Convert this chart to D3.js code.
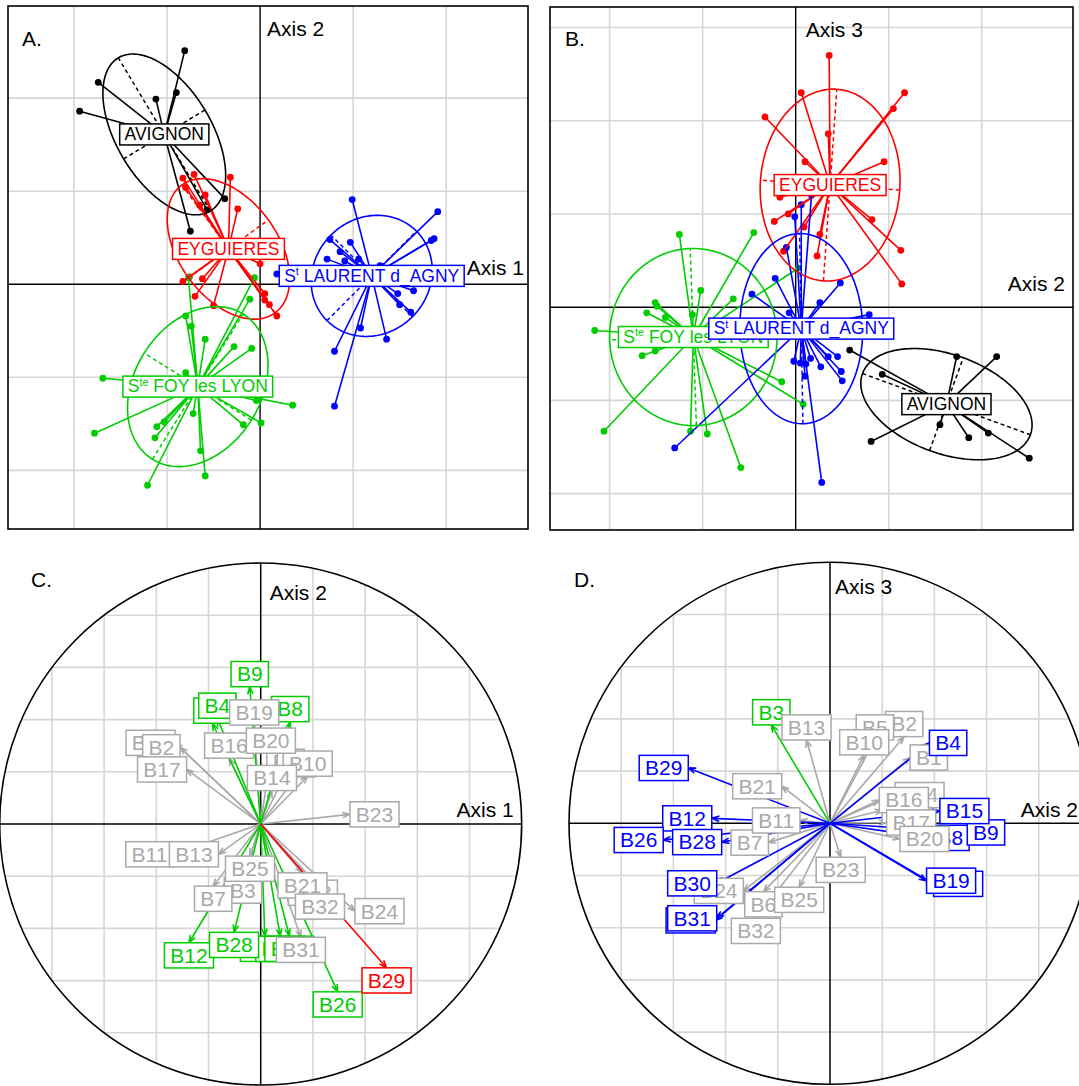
<!DOCTYPE html>
<html><head><meta charset="utf-8">
<script src="https://cdn.jsdelivr.net/npm/d3@7"></script>
<style>body{margin:0;background:#fff} svg{display:block}</style>
</head><body>
<svg id="chart" width="1079" height="1086"></svg>
<script>
// ================= DATA =================
const classNames = ["AVIGNON", "EYGUIERES", "S^te FOY les LYON", "S^t LAURENT d_AGNY"];

// Panel A : factorial plane axes 1 x 2 (individual scores per site)
const avignonA   = [[-0.81,2.51],[-1.74,2.17],[-1.94,1.86],[-1.12,1.99],[-0.90,2.06],[-0.38,0.92],[-0.57,0.80],[-0.75,0.57]];
const eyguieresA = [[-0.83,1.14],[-0.71,1.18],[-0.32,1.15],[-0.59,0.96],[-0.80,1.04],[-0.65,0.85],[-0.24,0.81],[0.00,0.22],[-0.83,0.03],[-0.76,0.08],[-0.62,0.06],[-0.70,-0.13],[-0.50,-0.23],[0.05,-0.10],[0.05,-0.17],[0.18,-0.34],[0.10,-0.22]];
const steFoyA    = [[-0.80,-0.34],[-0.74,-0.45],[-0.59,-0.59],[-0.28,-0.67],[-0.09,-0.69],[-0.11,-0.16],[-0.06,0.07],[-0.77,0.07],[-0.80,-0.95],[-1.69,-1.01],[0.35,-1.30],[-0.04,-1.25],[0.01,-1.49],[-0.18,-1.51],[-0.72,-1.39],[-1.11,-1.53],[-1.03,-1.48],[-1.13,-1.65],[-1.78,-1.60],[-0.64,-1.79],[-0.59,-2.06],[-1.21,-2.16]];
const stLaurentA = [[0.99,0.91],[1.91,0.78],[1.87,0.49],[1.84,0.47],[0.75,0.48],[0.97,0.45],[0.86,0.35],[1.06,0.27],[0.72,0.27],[0.91,0.25],[0.18,0.11],[1.48,-0.10],[1.65,-0.07],[1.50,-0.22],[1.08,-0.47],[1.36,-0.59],[0.80,-0.72],[0.80,-1.31],[1.29,0.20],[1.62,-0.30]];
const centroidsA = [[-1.03,1.61],[-0.34,0.38],[-0.67,-1.10],[1.20,0.09]];
// ellipse: semi-major, semi-minor, angle of major axis (deg)
const ellipsesA  = [[0.96,0.51,121],[0.85,0.53,-54],[0.92,0.68,58],[0.68,0.62,45]];

// Panel B : factorial plane axes 2 x 3
const avignonB   = [[0.58,-0.46],[0.93,-0.72],[1.73,-0.53],[2.16,-0.53],[0.81,-1.44],[1.55,-1.26],[1.86,-1.40],[2.07,-1.35],[2.51,-1.62]];
const eyguieresB = [[0.36,2.70],[0.06,2.30],[1.17,2.30],[1.05,2.13],[-0.33,2.04],[0.35,1.86],[0.95,1.56],[0.10,1.56],[-0.17,1.18],[-0.08,1.00],[-0.23,0.92],[0.09,0.86],[0.82,0.94],[1.13,0.61],[0.26,0.78],[0.23,0.55],[-0.13,0.60],[1.14,0.25]];
const steFoyB    = [[-1.25,0.78],[-0.45,0.80],[-1.02,0.18],[-0.67,0.09],[-1.51,0.05],[-1.49,0.01],[-1.60,-0.06],[-1.40,-0.11],[-1.11,-0.08],[-2.16,-0.25],[-1.65,-0.52],[-1.51,-0.47],[-0.15,-0.80],[0.08,-1.04],[-2.06,-1.33],[-1.13,-1.33],[-0.95,-1.36],[-0.59,-1.72],[0.03,0.42]];
const stLaurentB = [[0.06,1.10],[-0.01,0.97],[-0.10,0.64],[0.17,1.20],[-0.22,0.31],[0.48,0.26],[-0.47,0.14],[0.26,0.05],[-0.07,-0.06],[0.79,-0.08],[-0.02,-0.58],[0.05,-0.60],[0.11,-0.61],[0.16,-0.55],[0.35,-0.53],[0.45,-0.53],[0.27,-0.64],[0.49,-0.69],[0.50,-0.79],[0.10,-0.74],[-1.30,-1.51],[0.28,-1.88]];
const centroidsB = [[1.62,-1.04],[0.37,1.31],[-1.10,-0.32],[0.06,-0.23]];
const ellipsesB  = [[0.96,0.53,-20],[1.03,0.75,86],[0.95,0.90,92],[1.02,0.66,91]];

// Panel C : correlation circle axes 1 x 2 (variables, in drawing order)
const namesC = ["B1","B30","B2","B3","B4","B5","B6","B7","B8","B9","B10","B11","B12","B13","B14","B15","B16","B17","B18","B19","B20","B21","B22","B23","B24","B25","B26","B27","B28","B29","B31","B32"];
const corC_x = [-0.185,-0.328,-0.309,-0.068,-0.166,0.095,0.135,-0.182,0.113,-0.042,0.18,-0.335,-0.275,-0.162,0.043,0.016,-0.121,-0.284,0.20,-0.025,0.039,0.16,0.075,0.342,0.361,-0.041,0.295,0.11,-0.102,0.482,0.154,0.227];
const corC_y = [0.386,0.311,0.294,-0.207,0.405,0.19,0.18,-0.238,0.392,0.526,0.183,-0.116,-0.455,-0.116,0.128,-0.43,0.252,0.209,-0.215,0.379,0.271,-0.187,-0.43,0.037,-0.334,-0.123,-0.643,-0.43,-0.415,-0.551,-0.434,-0.268];
const groupC = ["g","n","n","n","g","n","n","n","g","g","n","n","g","n","n","g","n","n","n","n","n","n","g","n","n","n","g","g","g","r","n","n"];

// Panel D : correlation circle axes 2 x 3
const namesD = ["B1","B2","B5","B3","B4","B6","B7","B27","B8","B9","B10","B11","B12","B13","B18","B14","B16","B15","B17","B22","B19","B20","B21","B23","B24","B25","B26","B28","B29","B30","B31","B32"];
const corD_x = [0.307,0.284,0.172,-0.225,0.381,-0.255,-0.236,-0.44,0.39,0.526,0.131,-0.115,-0.453,-0.09,0.20,0.249,0.189,0.421,0.217,0.397,0.37,0.268,-0.185,0.041,-0.332,-0.118,-0.639,-0.415,-0.543,-0.434,-0.434,-0.284];
const corD_y = [0.252,0.332,0.319,0.377,0.308,-0.262,-0.074,-0.372,-0.056,-0.035,0.262,0.011,0.019,0.319,0.05,0.108,0.089,0.047,0.003,-0.232,-0.22,-0.06,0.142,-0.13,-0.259,-0.245,-0.064,-0.072,0.212,-0.23,-0.364,-0.364];
const groupD = ["n","n","n","g","b","n","n","b","b","b","n","n","b","n","n","n","n","b","n","b","b","n","n","n","n","n","b","b","b","b","b","n"];

// ================= STYLE =================
const FONT = "'Liberation Sans', Arial, Helvetica, sans-serif";
const classColors = ["#000000", "#ff0000", "#00cd00", "#0000ff"];
const groupColors = {g: "#00cd00", r: "#ff0000", b: "#0000ff", n: "#a9a9a9"};
const GRID = "#d6d6d6";

const svg = d3.select("#chart");
svg.append("rect").attr("width", 1079).attr("height", 1086).attr("fill", "#fff");
const defs = svg.append("defs");
const meas = svg.append("text").attr("font-family", FONT).attr("visibility", "hidden");
function tw(s, fs) { meas.attr("font-size", fs).text(s); return meas.node().getComputedTextLength(); }

function addText(x, y, s, fs, anchor) {
  svg.append("text").attr("x", x).attr("y", y).attr("font-family", FONT).attr("font-size", fs)
    .attr("text-anchor", anchor || "start").attr("fill", "#000").text(s);
}

function classLabel(gp, cx, cy, name, color, fs) {
  const g = gp.append("g");
  const rect = g.append("rect");
  const t = g.append("text").attr("x", cx).attr("y", cy + 0.33 * fs).attr("text-anchor", "middle")
    .attr("font-family", FONT).attr("font-size", fs).attr("fill", color);
  const m = name.match(/^(\S*)\^(\S+)(.*)$/);
  if (m) {
    t.append("tspan").text(m[1]);
    t.append("tspan").attr("font-size", fs * 0.62).attr("dy", -0.38 * fs).text(m[2]);
    t.append("tspan").attr("font-size", fs).attr("dy", 0.38 * fs).text(m[3].replace(/ /g, "\u00a0"));
  } else t.text(name);
  const w = t.node().getComputedTextLength() + 2 * tw("\u00a0", fs);
  const yh = 0.6 * fs;
  rect.attr("x", cx - w / 2).attr("y", cy - yh).attr("width", w).attr("height", 2 * yh)
    .attr("fill", "#fff").attr("stroke", color).attr("stroke-width", 1.5);
}

function classPanel(id, box, xdom, ydom, pts, cents, ells) {
  const x = d3.scaleLinear().domain(xdom).range([box.x0, box.x1]);
  const y = d3.scaleLinear().domain(ydom).range([box.y1, box.y0]);
  defs.append("clipPath").attr("id", "clip" + id).append("rect")
    .attr("x", box.x0).attr("y", box.y0).attr("width", box.x1 - box.x0).attr("height", box.y1 - box.y0);
  const g = svg.append("g").attr("clip-path", `url(#clip${id})`);
  const gx = d3.range(Math.ceil(xdom[0]), Math.floor(xdom[1]) + 1).filter(v => v !== 0);
  const gy = d3.range(Math.ceil(ydom[0]), Math.floor(ydom[1]) + 1).filter(v => v !== 0);
  g.append("g").selectAll("line").data(gx).join("line")
    .attr("x1", d => x(d)).attr("x2", d => x(d)).attr("y1", box.y0).attr("y2", box.y1)
    .attr("stroke", GRID).attr("stroke-width", 1.6);
  g.append("g").selectAll("line").data(gy).join("line")
    .attr("y1", d => y(d)).attr("y2", d => y(d)).attr("x1", box.x0).attr("x2", box.x1)
    .attr("stroke", GRID).attr("stroke-width", 1.6);
  g.append("line").attr("x1", x(0)).attr("x2", x(0)).attr("y1", box.y0).attr("y2", box.y1).attr("stroke", "#000").attr("stroke-width", 1.4);
  g.append("line").attr("y1", y(0)).attr("y2", y(0)).attr("x1", box.x0).attr("x2", box.x1).attr("stroke", "#000").attr("stroke-width", 1.4);
  // points
  pts.forEach((arr, i) => {
    g.append("g").selectAll("circle").data(arr).join("circle")
      .attr("cx", d => x(d[0])).attr("cy", d => y(d[1])).attr("r", 3.4).attr("fill", classColors[i]);
  });
  // stars
  pts.forEach((arr, i) => {
    g.append("g").selectAll("line").data(arr).join("line")
      .attr("x1", x(cents[i][0])).attr("y1", y(cents[i][1]))
      .attr("x2", d => x(d[0])).attr("y2", d => y(d[1]))
      .attr("stroke", classColors[i]).attr("stroke-width", 1.6);
  });
  // ellipses
  ells.forEach((e, i) => {
    const [a, b, ang] = e, th = ang * Math.PI / 180, c = cents[i];
    const ex = t => c[0] + a * Math.cos(th) * Math.cos(t) - b * Math.sin(th) * Math.sin(t);
    const ey = t => c[1] + a * Math.sin(th) * Math.cos(t) + b * Math.cos(th) * Math.sin(t);
    const line = d3.line().x(t => x(ex(t))).y(t => y(ey(t))).curve(d3.curveLinearClosed);
    g.append("path").attr("d", line(d3.range(0, 2 * Math.PI, Math.PI / 90)))
      .attr("fill", "none").attr("stroke", classColors[i]).attr("stroke-width", 1.6);
    [[a * Math.cos(th), a * Math.sin(th)], [-b * Math.sin(th), b * Math.cos(th)]].forEach(v => {
      g.append("line").attr("x1", x(c[0] - v[0])).attr("y1", y(c[1] - v[1]))
        .attr("x2", x(c[0] + v[0])).attr("y2", y(c[1] + v[1]))
        .attr("stroke", classColors[i]).attr("stroke-width", 1.5).attr("stroke-dasharray", "4,3");
    });
  });
  // labels
  const lg = g.append("g");
  cents.forEach((c, i) => classLabel(lg, x(c[0]), y(c[1]), classNames[i], classColors[i], 17.5));
  svg.append("rect").attr("x", box.x0).attr("y", box.y0).attr("width", box.x1 - box.x0).attr("height", box.y1 - box.y0)
    .attr("fill", "none").attr("stroke", "#000").attr("stroke-width", 1.6);
  return {x, y};
}

function head(x1, y1, x2, y2) {
  const a = Math.atan2(y2 - y1, x2 - x1), L = 8, w = Math.PI / 9;
  return `M${x2 - L * Math.cos(a - w)},${y2 - L * Math.sin(a - w)}L${x2},${y2}L${x2 - L * Math.cos(a + w)},${y2 - L * Math.sin(a + w)}`;
}

function corPanel(cx, cy, R, names, vx, vy, grp) {
  const x = d3.scaleLinear().domain([-1, 1]).range([cx - R, cx + R]);
  const y = d3.scaleLinear().domain([-1, 1]).range([cy + R, cy - R]);
  const g = svg.append("g");
  const gv = d3.range(-4, 5).filter(k => k !== 0).map(k => k * 0.2);
  g.append("g").selectAll("line").data(gv).join("line")
    .attr("x1", d => x(d)).attr("x2", d => x(d))
    .attr("y1", d => y(Math.sqrt(1 - d * d))).attr("y2", d => y(-Math.sqrt(1 - d * d)))
    .attr("stroke", GRID).attr("stroke-width", 1.6);
  g.append("g").selectAll("line").data(gv).join("line")
    .attr("y1", d => y(d)).attr("y2", d => y(d))
    .attr("x1", d => x(-Math.sqrt(1 - d * d))).attr("x2", d => x(Math.sqrt(1 - d * d)))
    .attr("stroke", GRID).attr("stroke-width", 1.6);
  g.append("line").attr("x1", x(-1)).attr("x2", x(1)).attr("y1", y(0)).attr("y2", y(0)).attr("stroke", "#000").attr("stroke-width", 1.5);
  g.append("line").attr("y1", y(-1)).attr("y2", y(1)).attr("x1", x(0)).attr("x2", x(0)).attr("stroke", "#000").attr("stroke-width", 1.5);
  g.append("circle").attr("cx", x(0)).attr("cy", y(0)).attr("r", x(1) - x(0)).attr("fill", "none").attr("stroke", "#000").attr("stroke-width", 1.6);
  const idx = d3.range(names.length);
  const order = idx.filter(i => grp[i] === "n").concat(idx.filter(i => grp[i] !== "n"));
  g.append("g").selectAll("path").data(order).join("path")
    .attr("d", i => `M${x(0)},${y(0)}L${x(vx[i])},${y(vy[i])}` + head(x(0), y(0), x(vx[i]), y(vy[i])))
    .attr("fill", "none").attr("stroke", i => groupColors[grp[i]]).attr("stroke-width", 1.6);
  const fs = 21, yh = 0.6 * fs;
  const lg = g.append("g");
  idx.forEach(i => {
    const s = "\u00a0" + names[i] + "\u00a0";
    const w = tw(s, fs);
    const px = x(vx[i]), py = y(vy[i]), xr = vx[i], yr = vy[i];
    let x1 = px, y1 = py;
    if (xr > yr && xr > -yr) x1 = px + w / 2;
    else if (xr > yr && xr <= -yr) y1 = py + yh;
    else if (xr <= yr && xr <= -yr) x1 = px - w / 2;
    else y1 = py - yh;
    const col = groupColors[grp[i]];
    lg.append("rect").attr("x", x1 - w / 2).attr("y", y1 - yh).attr("width", w).attr("height", 2 * yh)
      .attr("fill", "#fff").attr("stroke", col).attr("stroke-width", 1.5);
    lg.append("text").attr("x", x1).attr("y", y1 + 0.35 * fs).attr("text-anchor", "middle")
      .attr("font-family", FONT).attr("font-size", fs).attr("fill", col).text(s);
  });
  return {x, y};
}

// ================= DRAW =================
const boxA = {x0: 8, x1: 528, y0: 6, y1: 529};
const sA = classPanel("A", boxA, [-2.71, 2.88], [-2.63, 2.99],
  [avignonA, eyguieresA, steFoyA, stLaurentA], centroidsA, ellipsesA);
const boxB = {x0: 550, x1: 1073, y0: 7, y1: 530};
const sB = classPanel("B", boxB, [-2.64, 2.98], [-2.39, 3.22],
  [avignonB, eyguieresB, steFoyB, stLaurentB], centroidsB, ellipsesB);
const sC = corPanel(260.7, 824, 261, namesC, corC_x, corC_y, groupC);
const sD = corPanel(830, 823.3, 261, namesD, corD_x, corD_y, groupD);

addText(22, 46, "A.", 21);
addText(sA.x(0) + 7, 36, "Axis 2", 21);
addText(boxA.x1 - 4, sA.y(0) - 9, "Axis 1", 21, "end");
addText(565, 46, "B.", 21);
addText(sB.x(0) + 10, 37, "Axis 3", 21);
addText(boxB.x1 - 8, sB.y(0) - 16, "Axis 2", 21, "end");
addText(31, 587, "C.", 21);
addText(sC.x(0) + 9, 600, "Axis 2", 21);
addText(sC.x(1) - 8, sC.y(0) - 7, "Axis 1", 21, "end");
addText(574, 587, "D.", 21);
addText(sD.x(0) + 5, 594, "Axis 3", 21);
addText(sD.x(1) - 13, sD.y(0) - 6, "Axis 2", 21, "end");
</script>
</body></html>
